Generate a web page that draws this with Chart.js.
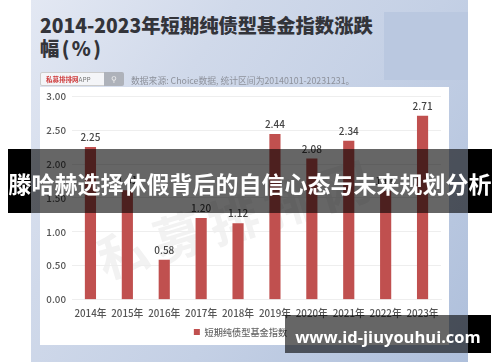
<!DOCTYPE html>
<html>
<head>
<meta charset="utf-8">
<title>短期纯债型基金指数涨跌幅</title>
<script src="https://cdn.jsdelivr.net/npm/chart.js"></script>
<style>
  html, body { margin: 0; padding: 0; background: #fff; }
  body { width: 500px; height: 362px; overflow: hidden; position: relative; font-family: "Noto Sans CJK SC", "Noto Sans", sans-serif; }
  div { position: absolute; white-space: nowrap; }
  #photo { left: 0; top: 0; width: 500px; height: 362px; filter: blur(.55px); }
  #bg { left: 31px; top: 0; width: 437px; height: 362px; overflow: hidden;
        background: linear-gradient(125deg, #e3e8f3 0%, #d0d9ea 30%, #c4d0e5 60%, #aebfdb 100%); }
  #patch { left: 384px; top: 12px; width: 84px; height: 68px; background: #bac8e0; }
  #card { left: 40px; top: 87px; width: 409px; height: 258px; background: #fff; }
  #title { left: 40px; top: 14px; font-size: 19.3px; line-height: 23px; font-weight: 900; color: #33343a; word-spacing: -2px; }
  #search { left: 40px; top: 72px; width: 83px; height: 14px; border: 1px solid #ccc; border-radius: 2px; background: #f4f5f8; box-sizing: border-box; font-size: 6.5px; line-height: 12px; color: #777; padding-left: 5px; }
  #search b { color: #cf3d3d; }
  #btn { left: 104px; top: 72px; width: 20px; height: 14px; background: #aeb2ba; border-radius: 0 2px 2px 0; color: #eee; font-size: 8px; line-height: 13px; text-align: center; }
  #source { left: 131px; top: 74px; font-size: 8.8px; line-height: 13px; color: #8d919b; }
  #mark { left: 98px; top: 228px; font-size: 50px; line-height: 60px; font-weight: 700; color: #f2f2f2; letter-spacing: 8px; transform: rotate(-17deg); transform-origin: left center; }
  #chart { left: 0; top: 0; width: 500px; height: 362px; }
  .solid { background: #000; }
  .tint { background: rgba(0,0,0,.6); }
  #band-text { left: 8px; top: 149px; width: 484px; height: 64px; line-height: 69px; text-align: center; color: #fff; font-size: 23px; font-weight: 700; }
  #url-text { left: 285px; top: 315px; width: 206px; height: 38px; line-height: 44px; text-align: center; color: #fff; font-size: 16.5px; font-weight: 700; font-family: "Open Sans", sans-serif; }
</style>
</head>
<body>
<div id="photo">
  <div id="bg"></div>
  <div id="patch"></div>
  <div id="card"></div>
  <div id="mark">私募排排网</div>
  <div id="title">2014-2023年短期纯债型基金指数涨跌<br>幅 ( % )</div>
  <div id="search"><b>私募排排网</b>APP</div>
  <div id="btn">&#9906;</div>
  <div id="source">数据来源: Choice数据, 统计区间为20140101-20231231。</div>
  <div id="chart"><canvas id="myChart" width="500" height="362"></canvas></div>
</div>

<div class="solid" style="left:8px;top:149px;width:23px;height:64px"></div>
<div class="tint" style="left:31px;top:149px;width:437px;height:64px"></div>
<div class="solid" style="left:468px;top:149px;width:24px;height:64px"></div>
<div id="band-text">滕哈赫选择休假背后的自信心态与未来规划分析</div>

<div class="tint" style="left:285px;top:315px;width:183px;height:38px"></div>
<div class="solid" style="left:468px;top:315px;width:23px;height:38px"></div>
<div id="url-text">www.id-jiuyouhui.com</div>

<script>
var years = ["2014年","2015年","2016年","2017年","2018年","2019年","2020年","2021年","2022年","2023年"];
var values = [2.25,1.61,0.58,1.20,1.12,2.44,2.08,2.34,1.60,2.71];
var y_ticks = [0,0.5,1,1.5,2,2.5,3];
var series_name = "短期纯债型基金指数";

var font_name = '"Noto Sans CJK SC", "Noto Sans", sans-serif';

// value labels over the bars
const bar_labels = {
  id: 'bar_labels',
  afterDatasetsDraw(chart) {
    const ctx = chart.ctx;
    const bars = chart.getDatasetMeta(0).data;
    ctx.save();
    ctx.font = '500 10px ' + font_name;
    ctx.fillStyle = '#444';
    ctx.textAlign = 'center';
    ctx.textBaseline = 'bottom';
    for (var i = 0; i < bars.length; i++) {
      ctx.fillText(values[i].toFixed(2), bars[i].x, bars[i].y - 5);
    }
    ctx.restore();
  }
};

new Chart(document.getElementById('myChart'), {
  type: 'bar',
  data: {
    labels: years,
    datasets: [{
      label: series_name,
      data: values,
      backgroundColor: '#c0504f',
      barThickness: 10.5
    }]
  },
  options: {
    responsive: false,
    animation: false,
    layout: { padding: { left: 40, right: 59, top: 96.5, bottom: 15.3 } },
    plugins: {
      tooltip: { enabled: false },
      legend: {
        position: 'bottom',
        labels: {
          boxWidth: 6, boxHeight: 6, padding: 5,
          color: '#666',
          font: { family: font_name, size: 9.2, weight: '500' }
        }
      }
    },
    scales: {
      x: {
        afterFit(axis) { axis.height += 3.3; },
        grid: { display: false },
        border: { color: '#eee' },
        ticks: { color: '#555', padding: 0, maxRotation: 0, autoSkip: false, font: { family: font_name, size: 9.8, weight: '500' } }
      },
      y: {
        min: 0,
        max: 3,
        afterBuildTicks(axis) { axis.ticks = y_ticks.map(v => ({ value: v })); },
        afterFit(axis) { axis.width = 32; },
        grid: { color: '#eee', drawTicks: false },
        border: { display: false },
        ticks: {
          color: '#555', padding: 6, align: 'center',
          font: { family: font_name, size: 9.8, weight: '500' },
          callback: v => v.toFixed(2)
        }
      }
    }
  },
  plugins: [bar_labels]
});
</script>
</body>
</html>
